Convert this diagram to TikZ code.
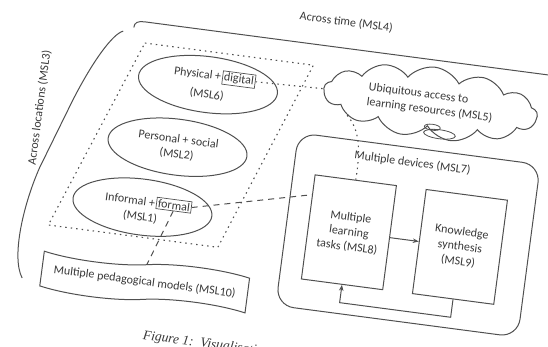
\documentclass[tikz,border=0pt]{standalone}
\usepackage{fontspec}
\setmainfont{Carlito}
\newfontfamily\capfont{Liberation Serif}
\usetikzlibrary{arrows.meta, positioning, shapes.geometric, shapes.symbols}
\definecolor{lineGray}{HTML}{505050}
\definecolor{inkGray}{HTML}{383838}

\begin{document}
\begin{tikzpicture}[
x=1pt, y=-1pt,
font=\fontsize{12}{15}\selectfont,
every node/.append style={text=inkGray},
zone/.style={draw=lineGray, line width=1pt, ellipse, minimum width=140, minimum height=56},
wordbox/.style={draw=lineGray, line width=0.7pt, inner sep=1.5pt},
box/.style={draw=lineGray, line width=1pt, minimum width=82, minimum height=105, align=center},
bracket/.style={lineGray, line width=1pt},
dotline/.style={lineGray, line width=1.1pt, dash pattern=on 1.5pt off 4pt},
dashline/.style={lineGray, line width=1pt, dash pattern=on 6pt off 5pt},
arrow/.style={-{Stealth[length=6pt]}, line width=1pt, lineGray}
]
\useasboundingbox (0,0) rectangle (548,347);
\clip (0,0) rectangle (548,347);

\begin{scope}[rotate around={-7.5:(274,173)}, transform shape]

% time and location brackets
\draw[bracket] (116,47) .. controls (116,42) and (119,40) .. (126,40) -- (640,40);
\node (time) at (326,14) {Across time (MSL4)};
\draw[bracket] (106,52) .. controls (96,56) and (80,85) .. (65,127) -- (41,198)
  .. controls (30,235) and (24,290) .. (38,310);
\node[rotate=90] (locations) at (33,139) {Across locations (MSL3)};

% learning spaces
\draw[dotline] (129,61) -- (299,61) -- (228,254) -- (57,254) -- cycle;

\node[zone] (physical) at (197,94) {};
\node[wordbox] (digital) at (227,85) {digital};
\node[anchor=east, inner sep=1pt] (physw) at (digital.west) {Physical +};
\node (msl6) at (197,104) {(MSL6)};

\node[zone, align=center] (personal) at (175,160) {Personal + social\\(MSL2)};

\node[zone] (informal) at (148,224) {};
\node[wordbox] (formal) at (179,218) {formal};
\node[anchor=east, inner sep=1pt] (informw) at (formal.west) {Informal +};
\node (msl1) at (147,234) {(MSL1)};

\node[tape, draw=lineGray, line width=1pt, tape bend height=8pt, minimum width=207, minimum height=43] (peda) at (160,298) {Multiple pedagogical models (MSL10)};

% ubiquitous access
\node[cloud, draw=lineGray, line width=1pt, cloud puffs=13, cloud puff arc=110, aspect=3.5,
  minimum width=215, minimum height=64, inner sep=0pt, align=left] (ubi) at (420,83)
  {Ubiquitous access to\\learning resources (MSL5)};
\draw[lineGray, line width=0.8pt] (433,113) ellipse (16 and 4.5);
\draw[lineGray, line width=0.8pt] (425,107) ellipse (8 and 3);

% devices
\node[draw=lineGray, line width=1pt, rounded corners=18, minimum width=244, minimum height=174] (devices) at (415,217) {};
\node (devlbl) at (410,145) {Multiple devices (MSL7)};

\node[box] (tasks) at (356,222) {Multiple\\learning\\tasks (MSL8)};
\node[box] (synth) at (468,222) {Knowledge\\synthesis\\(MSL9)};
\coordinate (loopR) at (468,293);
\coordinate (loopL) at (356,293);
\draw[arrow] (tasks) -- (synth);
\draw[arrow] (synth.south) -- (loopR) -- (loopL) -- (tasks.south);

% links
\draw[dotline] (digital.east) -- (ubi.west);
\draw[dotline] (ubi.196) .. controls (352,118) and (357,135) .. (tasks.north);
\draw[dashline] (formal.east) -- (tasks.142);
\draw[dashline] (formal.south) -- (peda.north);

\node[anchor=base west, font=\capfont\itshape\fontsize{13.5}{15}\selectfont] (caption) at (162,355) {Figure 1:\enspace Visualisation of the};

\end{scope}
\end{tikzpicture}
\end{document}
